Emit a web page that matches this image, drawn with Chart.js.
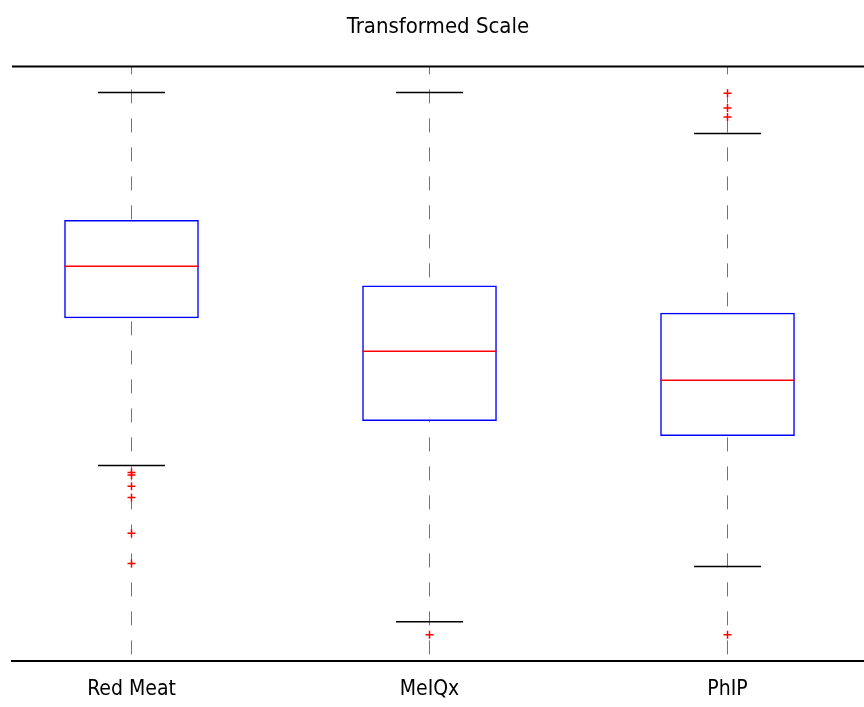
<!DOCTYPE html>
<html>
<head>
<meta charset="utf-8">
<script src="https://cdn.jsdelivr.net/npm/chart.js@4.4.0/dist/chart.umd.min.js"></script>
<style>
  html, body { margin: 0; padding: 0; background: #fff; }
  #wrap { width: 864px; height: 707px; }
</style>
</head>
<body>
<div id="wrap"><canvas id="boxChart"></canvas></div>
<script>
// categorias e estatísticas (escala transformada, 0..10)
const categories = ['Red Meat', 'MeIQx', 'PhIP'];
const q1 = [5.77, 4.04, 3.79];
const median = [6.64, 5.21, 4.72];
const q3 = [7.41, 6.31, 5.85];
const whiskerLow = [3.29, 0.66, 1.59];
const whiskerHigh = [9.56, 9.56, 8.87];
const redMeatOutliers = [3.17, 3.13, 2.94, 2.75, 2.15, 1.64];
const meiqxOutliers = [0.44];
const phipOutliers = [9.55, 9.30, 9.15, 0.44];

const FONT = '"Liberation Sans Narrow", "DejaVu Sans Condensed", "Liberation Sans", sans-serif';
const BOX_PX = 134;   // largura da caixa
const CAP_PX = 67;    // largura das barras de extremidade

const outlierPoints = [];
[redMeatOutliers, meiqxOutliers, phipOutliers].forEach((list, i) => {
    list.forEach(v => outlierPoints.push({ x: i + 1, y: v }));
});

// desenha medianas, extremidades e a linha superior do quadro
const boxExtras = {
    id: 'boxExtras',
    afterDatasetsDraw(chart) {
        const { ctx, chartArea, scales: { x, y } } = chart;
        ctx.save();
        categories.forEach((c, i) => {
            const cx = x.getPixelForValue(i + 1);
            ctx.lineWidth = 1.5;
            ctx.strokeStyle = '#ff0000';
            ctx.beginPath();
            ctx.moveTo(cx - BOX_PX / 2, y.getPixelForValue(median[i]));
            ctx.lineTo(cx + BOX_PX / 2, y.getPixelForValue(median[i]));
            ctx.stroke();
            ctx.strokeStyle = '#000';
            [whiskerLow[i], whiskerHigh[i]].forEach(v => {
                ctx.beginPath();
                ctx.moveTo(cx - CAP_PX / 2, y.getPixelForValue(v));
                ctx.lineTo(cx + CAP_PX / 2, y.getPixelForValue(v));
                ctx.stroke();
            });
        });
        ctx.lineWidth = 2;
        ctx.strokeStyle = '#000';
        ctx.beginPath();
        ctx.moveTo(chartArea.left, chartArea.top);
        ctx.lineTo(chartArea.right, chartArea.top);
        ctx.stroke();
        ctx.restore();
    }
};

const ctx = document.getElementById('boxChart').getContext('2d');
const boxChart = new Chart(ctx, {
    type: 'bar',
    data: {
        datasets: [{
            label: 'caixas',
            data: categories.map((c, i) => ({ x: i + 1, y: [q1[i], q3[i]] })),
            backgroundColor: '#ffffff',
            borderColor: '#0000ff',
            borderWidth: 1.5,
            borderSkipped: false,
            barThickness: BOX_PX
        }, {
            type: 'scatter',
            label: 'outliers',
            data: outlierPoints,
            pointStyle: 'cross',
            radius: 4,
            borderColor: '#ff0000',
            borderWidth: 1.5,
            backgroundColor: '#ff0000'
        }]
    },
    options: {
        responsive: true,
        maintainAspectRatio: false,
        animation: false,
        layout: { autoPadding: false, padding: { left: 12, right: 0, top: 0, bottom: 0 } },
        scales: {
            x: {
                type: 'linear',
                offset: false,
                min: 0.599,
                max: 3.458,
                afterBuildTicks: axis => { axis.ticks = categories.map((c, i) => ({ value: i + 1 })); },
                afterFit: axis => { axis.height = 46; axis.paddingRight = 0; axis.paddingLeft = 0; },
                ticks: {
                    callback: v => categories[v - 1],
                    color: '#000',
                    padding: 16,
                    font: { family: FONT, size: 21 }
                },
                grid: {
                    offset: false,
                    color: 'rgba(0,0,0,0.55)',
                    lineWidth: 1,
                    drawTicks: false
                },
                border: { color: '#000', width: 2, dash: [14, 15], dashOffset: 6 }
            },
            y: {
                display: false,
                min: 0,
                max: 10
            }
        },
        plugins: {
            legend: { display: false },
            tooltip: { enabled: false },
            title: {
                display: true,
                text: 'Transformed Scale',
                color: '#000',
                font: { family: FONT, size: 22, weight: 'normal' },
                padding: { top: 14, bottom: 26 }
            }
        }
    },
    plugins: [boxExtras]
});
</script>
</body>
</html>
